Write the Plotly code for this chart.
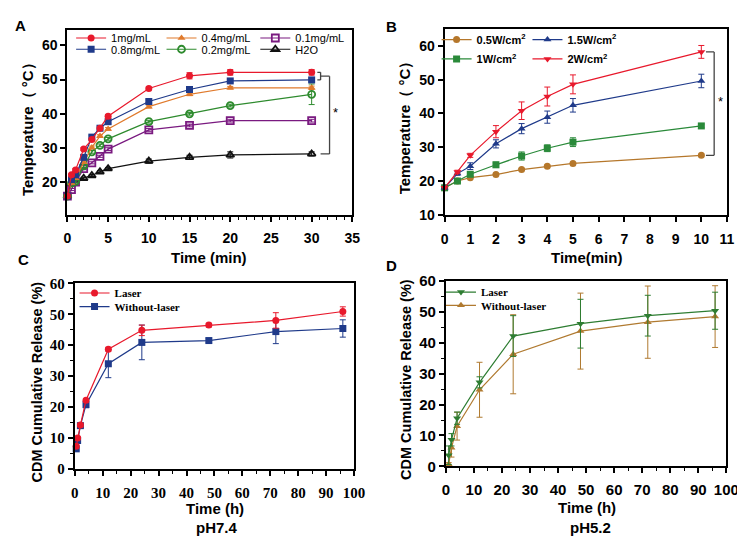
import plotly.graph_objects as go

W, H = 745, 538
def px(x):
    return x / W
def py(y):
    return 1 - y / H

SANS = "Liberation Sans, Arial, sans-serif"
SERIF = "Liberation Serif, Times New Roman, serif"

# ---------------- Panel A data ----------------
tA = [0, 0.5, 1, 2, 3, 4, 5, 10, 15, 20, 30]
a_1mg = [16.0, 22.2, 23.6, 29.7, 32.5, 35.8, 39.3, 47.4, 51.1, 52.1, 52.1]
a_1mg_err = [0.3, 0.4, 0.4, 0.4, 0.4, 0.4, 0.5, 0.4, 0.9, 0.8, 0.8]
a_08mg = [16.0, 20.8, 22.2, 27.3, 33.2, 35.8, 37.7, 43.6, 47.1, 49.6, 49.9]
a_08mg_err = [0.3, 0.3, 0.4, 0.4, 0.4, 0.4, 0.5, 0.5, 0.8, 0.5, 0.5]
a_04mg = [16.0, 19.8, 21.2, 25.9, 30.2, 33.5, 35.6, 42.1, 45.7, 47.6, 47.6]
a_04mg_err = [0.3, 0.3, 0.3, 0.4, 0.4, 0.4, 0.4, 0.4, 0.4, 0.4, 0.5]
a_02mg = [16.0, 19.8, 20.3, 24.8, 28.9, 30.8, 32.7, 37.7, 40.0, 42.4, 45.7]
a_02mg_err = [0.3, 0.3, 0.3, 0.4, 0.4, 0.4, 0.4, 0.4, 0.4, 0.4, 3.0]
a_01mg = [16.0, 17.9, 20.1, 24.0, 25.7, 27.6, 29.7, 35.3, 36.6, 38.0, 38.0]
a_01mg_err = [0.3, 0.3, 0.3, 0.3, 0.3, 0.3, 0.4, 0.4, 0.4, 0.4, 0.4]
a_h2o = [16.0, 19.5, 20.5, 21.2, 22.0, 23.1, 24.0, 26.2, 27.3, 28.0, 28.3]
a_h2o_err = [0.3, 0.3, 0.3, 0.3, 0.3, 0.3, 0.3, 0.6, 0.6, 0.9, 0.6]

# ---------------- Panel B data ----------------
tB = [0, 0.5, 1, 2, 3, 4, 5, 10]
b_05w = [18.0, 20.0, 21.0, 21.9, 23.4, 24.4, 25.2, 27.6]
b_05w_err = [0.3, 0.3, 0.3, 0.3, 0.3, 0.3, 0.3, 0.3]
b_1w = [18.0, 20.0, 22.0, 24.8, 27.4, 29.7, 31.5, 36.3]
b_1w_err = [0.3, 0.4, 0.5, 0.8, 1.2, 1.0, 1.3, 0.5]
b_15w = [18.0, 22.2, 24.4, 31.0, 35.5, 38.9, 42.4, 49.6]
b_15w_err = [0.3, 0.5, 1.0, 1.2, 1.5, 1.8, 2.0, 2.0]
b_2w = [18.0, 22.7, 27.6, 34.6, 40.8, 45.0, 48.6, 58.2]
b_2w_err = [0.3, 0.5, 0.6, 1.8, 2.6, 2.8, 2.8, 1.9]

# ---------------- Panel C data (pH 7.4) ----------------
tC = [0.5, 1, 2, 4, 12, 24, 48, 72, 96]
c_laser = [7.3, 10.0, 14.2, 22.2, 38.7, 44.8, 46.5, 48.0, 50.9]
c_laser_err = [0.5, 0.5, 0.5, 0.5, 0.6, 1.7, 0.6, 2.5, 1.5]
c_nolaser = [6.5, 9.2, 14.0, 20.8, 34.0, 40.9, 41.5, 44.4, 45.4]
c_nolaser_err = [0.5, 0.8, 0.5, 1.0, 4.5, 5.6, 0.6, 3.9, 2.8]

# ---------------- Panel D data (pH 5.2) ----------------
tD = [1, 2, 4, 12, 24, 48, 72, 96]
d_laser = [3.6, 8.6, 15.6, 27.2, 42.2, 46.2, 48.8, 50.4]
d_laser_err = [3.0, 2.0, 2.0, 1.8, 6.6, 7.9, 6.6, 6.0]
d_nolaser = [0.7, 6.0, 13.0, 24.8, 36.3, 43.8, 46.7, 48.5]
d_nolaser_err = [0.5, 3.0, 4.5, 8.9, 12.8, 12.3, 11.7, 10.0]

RED = "#e8192c"
NAVY = "#1f3a8a"
ORANGE = "#e07a2c"
GREEN = "#2e8b2e"
PURPLE = "#7a1a80"
BLACK = "#111111"
BROWN = "#b5772b"
GREEN_B = "#2a8a3a"
GREEN_D = "#2e7d32"
BROWN_D = "#b07a30"

fig = go.Figure()

def add(x, y, err, name, color, symbol, xa, ya, legend, size=7, open_=False):
    fig.add_trace(go.Scatter(
        x=x, y=y, mode="lines+markers", name=name,
        line=dict(color=color, width=1.2),
        marker=dict(symbol=symbol, size=size, color=color,
                    line=dict(color=color, width=1.8 if open_ else 0)),
        error_y=dict(type="data", array=err, visible=True, color=color,
                     thickness=1, width=3),
        xaxis=xa, yaxis=ya, legend=legend, cliponaxis=False,
    ))

# Panel A traces (one legend per entry)
add(tA, a_h2o, a_h2o_err, "H2O", BLACK, "triangle-up-open", "x", "y", "legend6", 7, True)
add(tA, a_01mg, a_01mg_err, "0.1mg/mL", PURPLE, "square-open", "x", "y", "legend3", 7, True)
add(tA, a_02mg, a_02mg_err, "0.2mg/mL", GREEN, "circle-open", "x", "y", "legend5", 7, True)
add(tA, a_04mg, a_04mg_err, "0.4mg/mL", ORANGE, "triangle-up", "x", "y", "legend2", 7)
add(tA, a_08mg, a_08mg_err, "0.8mg/mL", NAVY, "square", "x", "y", "legend4", 7)
add(tA, a_1mg, a_1mg_err, "1mg/mL", RED, "circle", "x", "y", "legend", 7)

# Panel B
add(tB, b_05w, b_05w_err, "0.5W/cm<sup>2</sup>", BROWN, "circle", "x2", "y2", "legend7", 7)
add(tB, b_1w, b_1w_err, "1W/cm<sup>2</sup>", GREEN_B, "square", "x2", "y2", "legend9", 7)
add(tB, b_15w, b_15w_err, "1.5W/cm<sup>2</sup>", NAVY, "triangle-up", "x2", "y2", "legend8", 7)
add(tB, b_2w, b_2w_err, "2W/cm<sup>2</sup>", RED, "triangle-down", "x2", "y2", "legend10", 7)

# Panel C
add(tC, c_nolaser, c_nolaser_err, "Without-laser", NAVY, "square", "x3", "y3", "legend12", 7)
add(tC, c_laser, c_laser_err, "Laser", RED, "circle", "x3", "y3", "legend11", 7)

# Panel D
add(tD, d_nolaser, d_nolaser_err, "Without-laser", BROWN_D, "triangle-up", "x4", "y4", "legend14", 7)
add(tD, d_laser, d_laser_err, "Laser", GREEN_D, "triangle-down", "x4", "y4", "legend13", 7)

def axis(domain, rng, font, **kw):
    d = dict(domain=domain, range=rng, showline=True, linecolor="black", linewidth=2,
             mirror=True, ticks="outside", ticklen=5, tickwidth=1.5, tickcolor="black",
             showgrid=False, zeroline=False, tickfont=font, fixedrange=True)
    d.update(kw)
    return d

fA = dict(family=SANS, size=14, color="black", weight="bold")
fC = dict(family=SERIF, size=15, color="black", weight="bold")
fD = dict(family=SANS, size=15, color="black", weight="bold")

minor5 = dict(dtick=5, ticklen=3, tickwidth=1.2, tickcolor="black", ticks="outside")

layout = dict(
    width=W, height=H, margin=dict(l=0, r=0, t=0, b=0),
    paper_bgcolor="white", plot_bgcolor="white",
    xaxis=axis([px(56.7), px(348.3)], [0, 35], fA, anchor="y", dtick=5, tick0=0,
               ticklabelstandoff=5,
               minor=dict(dtick=1, ticklen=3, tickwidth=1.2, tickcolor="black", ticks="outside")),
    yaxis=axis([py(204), py(13.3)], [10.6, 64.5], fA, anchor="x", tickvals=[20, 30, 40, 50, 60]),
    xaxis2=axis([px(442.7), px(731.7)], [0, 11], fA, anchor="y2", dtick=1, tick0=0,
                ticklabelstandoff=5),
    yaxis2=axis([py(204.3), py(12.3)], [10, 65], fA, anchor="x2", tickvals=[10, 20, 30, 40, 50, 60]),
    xaxis3=axis([px(64.3), px(350)], [0, 100], fC, anchor="y3", dtick=10, tick0=0, minor=minor5,
                ticklabelstandoff=4),
    yaxis3=axis([py(466.7), py(275)], [0, 60], fC, anchor="x3", dtick=10, tick0=0, minor=minor5),
    xaxis4=axis([px(444), px(731)], [0, 100], fD, anchor="y4", dtick=10, tick0=0, minor=minor5,
                ticklabelstandoff=4),
    yaxis4=axis([py(464), py(272.7)], [0, 60], fD, anchor="x4", dtick=10, tick0=0, minor=minor5),
    showlegend=True,
)

def leg(xm, ym, font):
    # xm: pixel x of the marker centre in the legend symbol, ym: pixel y of row centre
    return dict(x=px(xm - 25), y=py(ym), xanchor="left", yanchor="middle",
                orientation="h", bgcolor="rgba(0,0,0,0)", borderwidth=0,
                font=font, itemclick=False, itemdoubleclick=False)

lfA = dict(family=SANS, size=11, color="black")
lfB = dict(family=SANS, size=11, color="black", weight="bold")
lfC = dict(family=SERIF, size=11, color="black", weight="bold")

layout["legend"] = leg(85.5, 21.7, lfA)
layout["legend2"] = leg(178, 21.7, lfA)
layout["legend3"] = leg(274, 21.7, lfA)
layout["legend4"] = leg(85.5, 33.3, lfA)
layout["legend5"] = leg(178, 33.3, lfA)
layout["legend6"] = leg(274, 33.3, lfA)
layout["legend7"] = leg(459.5, 23.3, lfB)
layout["legend8"] = leg(552.5, 23.3, lfB)
layout["legend9"] = leg(459.5, 43.3, lfB)
layout["legend10"] = leg(552.5, 43.3, lfB)
layout["legend11"] = leg(89, 285, lfC)
layout["legend12"] = leg(89, 299, lfC)
layout["legend13"] = leg(464, 284, lfC)
layout["legend14"] = leg(464, 297.7, lfC)

fig.update_layout(**layout)

# ---------------- annotations (titles, letters, stars) ----------------
def ann(text, x, y, size=15, angle=0, family=SANS, bold=True, xref="paper", yref="paper"):
    fig.add_annotation(text=(f"<b>{text}</b>" if bold else text), x=x, y=y,
                       xref=xref, yref=yref, showarrow=False, textangle=angle,
                       font=dict(family=family, size=size, color="black"),
                       xanchor="center", yanchor="middle")

ann("A", px(9), py(9), 15)
ann("B", px(388), py(10), 15)
ann("C", px(12), py(250), 15)
ann("D", px(388), py(257), 15)

ann("Time (min)", px(202), py(248), 15)
ann("Time(min)", px(588), py(248), 15)
ann("Temperature（ °C）", px(16), py(112), 15, -90)
ann("Temperature（ °C）", px(402), py(110), 15, -90)

ann("CDM Cumulative Release (%)", px(26), py(377), 14.5, -90)
ann("CDM Cumulative Release (%)", px(403), py(374), 14.5, -90)
ann("Time (h)", px(208), py(508), 15)
ann("pH7.4", px(210), py(527), 15)
ann("Time (h)", px(588), py(507), 15)
ann("pH5.2", px(592), py(527), 15)

# significance stars
ann("*", 32.9, 40.5, 13, xref="x", yref="y", bold=False)
ann("*", 10.75, 43.4, 13, xref="x2", yref="y2", bold=False)

# significance brackets
BR = dict(color="#444444", width=1.3)
def seg(x0, y0, x1, y1, xr, yr):
    fig.add_shape(type="line", x0=x0, y0=y0, x1=x1, y1=y1, xref=xr, yref=yr, line=BR)

top_small, bot_small = a_1mg[-1], a_08mg[-1]
mid_small = (top_small + bot_small) / 2
seg(30.7, top_small, 31.1, top_small, "x", "y")
seg(31.1, top_small, 31.1, bot_small, "x", "y")
seg(30.7, bot_small, 31.1, bot_small, "x", "y")
seg(31.1, mid_small, 32.2, mid_small, "x", "y")
seg(32.2, mid_small, 32.2, a_h2o[-1], "x", "y")
seg(31.1, a_h2o[-1], 32.2, a_h2o[-1], "x", "y")

seg(10.18, b_2w[-1], 10.5, b_2w[-1], "x2", "y2")
seg(10.5, b_2w[-1], 10.5, b_05w[-1], "x2", "y2")
seg(10.18, b_05w[-1], 10.5, b_05w[-1], "x2", "y2")

fig.write_html("out.html")
